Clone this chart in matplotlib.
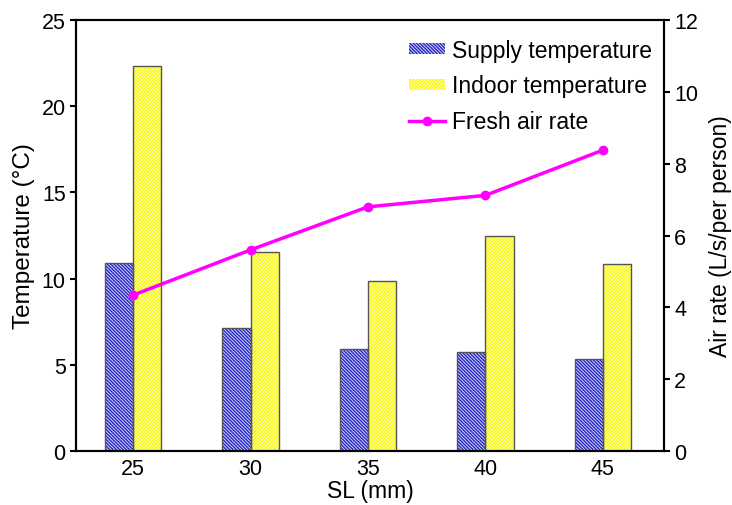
import matplotlib
matplotlib.use("Agg")
import matplotlib.pyplot as plt
import numpy as np
from matplotlib.patches import Patch
from matplotlib.lines import Line2D

plt.rcParams['font.family'] = ['Liberation Sans', 'DejaVu Sans']
plt.rcParams['hatch.linewidth'] = 1.1

categories = ['25', '30', '35', '40', '45']
supply_temp = [10.93, 7.13, 5.92, 5.74, 5.34]
indoor_temp = [22.33, 11.54, 9.85, 12.47, 10.87]
fresh_air = [4.34, 5.60, 6.80, 7.12, 8.38]

FS_TICK = 15.5
FS_LAB = 16.5
fig = plt.figure(figsize=(7.32, 5.06), dpi=100)
ax = fig.add_axes([0.104, 0.107, 0.803, 0.851])
x = np.arange(len(categories))
w = 0.24
H1 = '\\' * 10
H2 = '/' * 10

# hatched fills
ax.bar(x - w/2, supply_temp, w, color='#e8e8fc', edgecolor='#2c2cc8', hatch=H1, linewidth=0)
ax.bar(x + w/2, indoor_temp, w, color='#fffff0', edgecolor='#f8f800', hatch=H2, linewidth=0)
# outlines
ax.bar(x - w/2, supply_temp, w, fill=False, edgecolor='#555555', linewidth=1.0)
ax.bar(x + w/2, indoor_temp, w, fill=False, edgecolor='#555555', linewidth=1.0)

ax.set_xlim(-0.485, 4.52)
ax.set_ylim(0, 25)
ax.set_yticks([0, 5, 10, 15, 20, 25])
ax.set_xticks(x)
ax.set_xticklabels(categories)
ax.tick_params(axis='x', length=0, labelsize=FS_TICK, pad=5)
ax.tick_params(axis='y', direction='out', length=4, width=1.5, labelsize=FS_TICK)
ax.set_xlabel('SL (mm)', fontsize=FS_LAB, labelpad=0)
ax.set_ylabel('Temperature (°C)', fontsize=17.5, labelpad=5)
for s in ax.spines.values():
    s.set_linewidth(1.5)

ax2 = ax.twinx()
ax2.plot(x, fresh_air, color='#ff00ff', linewidth=2.5, marker='o', markersize=6)
ax2.set_ylim(0, 12)
ax2.set_yticks([0, 2, 4, 6, 8, 10, 12])
ax2.tick_params(axis='y', direction='out', length=4, width=1.5, labelsize=FS_TICK)
ax2.set_ylabel('Air rate (L/s/per person)', fontsize=FS_LAB, labelpad=8)
for s in ax2.spines.values():
    s.set_linewidth(1.5)

handles = [
    Patch(facecolor='#e8e8fc', edgecolor='#2c2cc8', hatch=H1, linewidth=0),
    Patch(facecolor='#fffff0', edgecolor='#f8f800', hatch=H2, linewidth=0),
    Line2D([0], [0], color='#ff00ff', linewidth=2.5, marker='o', markersize=6),
]
labels = ['Supply temperature', 'Indoor temperature', 'Fresh air rate']
ax2.legend(handles, labels, loc='upper right', frameon=False, fontsize=FS_LAB,
           handlelength=1.6, handleheight=0.35, handletextpad=0.3, labelspacing=0.55,
           bbox_to_anchor=(1.015, 1.005))

fig.savefig('out.png', dpi=100)
